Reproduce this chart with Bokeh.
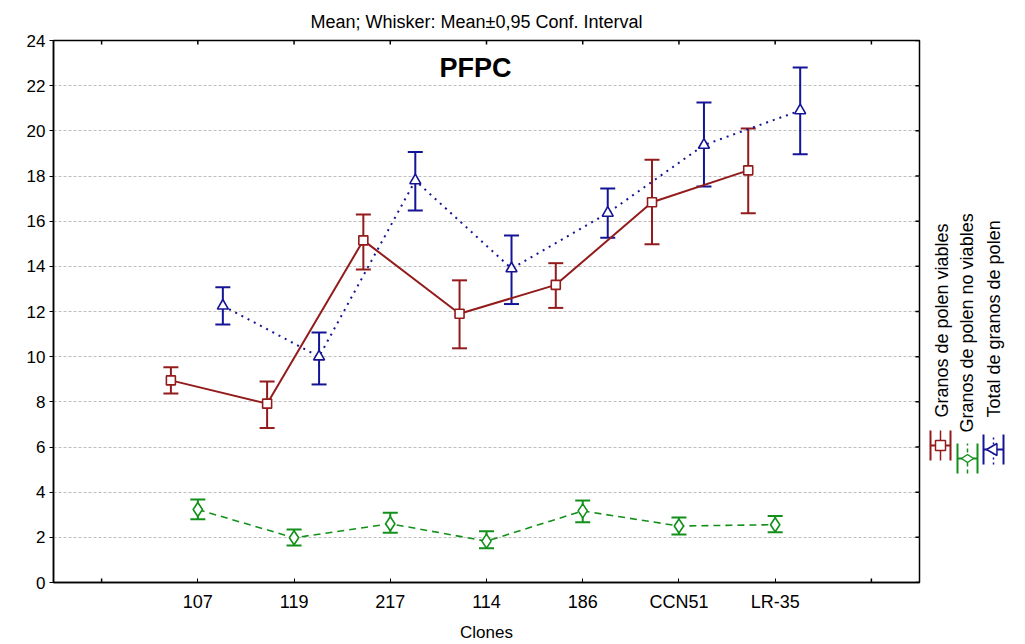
import numpy as np
from bokeh.plotting import figure
from bokeh.layouts import row
from bokeh.models import ColumnDataSource, Range1d, FixedTicker, Whisker, TeeHead, Label
from bokeh.core.properties import value
from bokeh.embed import file_html
from bokeh.resources import INLINE

# ---------------- data ----------------
clones = ["107", "119", "217", "114", "186", "CCN51", "LR-35"]
series_names = ["Granos de polen viables", "Granos de polen no viables", "Total de granos de polen"]

viables_mean = [8.95, 7.92, 15.15, 11.90, 13.18, 16.84, 18.25]
viables_low = [8.37, 6.84, 13.86, 10.37, 12.16, 14.98, 16.35]
viables_high = [9.53, 8.90, 16.29, 13.38, 14.14, 18.72, 20.10]

noviab_mean = [3.23, 1.98, 2.60, 1.83, 3.17, 2.50, 2.56]
noviab_low = [2.80, 1.64, 2.20, 1.52, 2.67, 2.13, 2.23]
noviab_high = [3.68, 2.35, 3.09, 2.27, 3.63, 2.88, 2.95]

total_mean = [12.25, 10.00, 17.80, 13.90, 16.36, 19.37, 20.90]
total_low = [11.42, 8.77, 16.47, 12.33, 15.27, 17.54, 18.96]
total_high = [13.07, 11.07, 19.06, 15.37, 17.45, 21.26, 22.80]

y_ticks = list(range(0, 25, 2))

# ---------------- styling ----------------
FONT = "Liberation Sans"
RED, GREEN, BLUE = "#931b1b", "#12901a", "#141496"

W_MAIN, W_LEG, H = 925, 95, 644
FL, FR, FT, FB = 53, 919, 40, 582  # frame in page px
X0, X1, Y0, Y1 = -0.5, 8.5, 0, 24
DX = (X1 - X0) / (FR - FL)  # data per px
DY = (Y1 - Y0) / (FB - FT)

p = figure(width=W_MAIN, height=H,
           min_border_left=FL, min_border_right=W_MAIN - FR,
           min_border_top=FT, min_border_bottom=H - FB,
           x_range=Range1d(X0, X1), y_range=Range1d(Y0, Y1),
           output_backend="svg", toolbar_location=None, tools="")
p.outline_line_color = "black"
p.outline_line_width = 1.5
p.background_fill_color = "white"
p.border_fill_color = "white"

p.title.text = "Mean; Whisker: Mean\u00b10,95 Conf. Interval"
p.title.align = "left"
p.title.offset = 257
p.title.text_font = FONT
p.title.text_font_size = "18px"
p.title.text_font_style = "normal"
p.title.text_color = "black"
p.title.standoff = 18

# axes
p.yaxis.ticker = FixedTicker(ticks=y_ticks)
p.yaxis.major_label_text_font = FONT
p.yaxis.major_label_text_font_size = "17px"
p.yaxis.major_label_text_color = "black"
p.yaxis.major_tick_in = 0
p.yaxis.major_tick_out = 4
p.yaxis.minor_tick_line_color = None
p.yaxis.axis_line_width = 1.5
p.yaxis.major_label_standoff = 4

xpos = list(range(1, len(clones) + 1))
p.xaxis.ticker = FixedTicker(ticks=xpos)
p.xaxis.major_label_overrides = {i: c for i, c in zip(xpos, clones)}
p.xaxis.major_label_text_font = FONT
p.xaxis.major_label_text_font_size = "18px"
p.xaxis.major_label_text_color = "black"
p.xaxis.major_tick_in = 4
p.xaxis.major_tick_out = 0
p.xaxis.minor_tick_line_color = None
p.xaxis.axis_line_width = 1.5
p.xaxis.major_label_standoff = 9
p.xaxis.axis_label = "Clones"
p.xaxis.axis_label_text_font = FONT
p.xaxis.axis_label_text_font_size = "17px"
p.xaxis.axis_label_text_font_style = "normal"
p.xaxis.axis_label_text_color = "black"
p.xaxis.axis_label_standoff = 8

p.xgrid.grid_line_color = None
p.ygrid.ticker = FixedTicker(ticks=y_ticks)
p.ygrid.grid_line_color = "#bdbdbd"
p.ygrid.grid_line_dash = "3 2"
p.ygrid.grid_line_width = 1

# inward ticks on the top, right and the outer bottom positions
x_all = list(range(0, 9))
p.segment(x0=x_all, x1=x_all, y0=[Y1] * 9, y1=[Y1 - 4 * DY] * 9, line_color="black", line_width=1.5)
p.segment(x0=[0, 8], x1=[0, 8], y0=[Y0] * 2, y1=[Y0 + 4 * DY] * 2, line_color="black", line_width=1.5)
p.segment(x0=[X1] * len(y_ticks), x1=[X1 - 4 * DX] * len(y_ticks), y0=y_ticks, y1=y_ticks,
          line_color="black", line_width=1.5)

# ---------------- series ----------------
specs = [
    (viables_mean, viables_low, viables_high, -0.28, RED, "solid", 2.0, "square", 9),
    (noviab_mean, noviab_low, noviab_high, 0.0, GREEN, "7 5", 1.6, "diamond", 14),
    (total_mean, total_low, total_high, 0.26, BLUE, "2 5", 2.0, "triangle", 11),
]
for mean, low, high, off, col, dash, lw, marker, size in specs:
    src = ColumnDataSource(dict(x=[x + off for x in xpos], m=mean, lo=low, hi=high))
    w = Whisker(base="x", lower="lo", upper="hi", source=src, dimension="height",
                line_color=col, line_width=2,
                lower_head=TeeHead(size=15, line_color=col, line_width=2),
                upper_head=TeeHead(size=15, line_color=col, line_width=2))
    p.add_layout(w)
    p.line("x", "m", source=src, line_color=col, line_width=lw, line_dash=dash)
    p.scatter("x", "m", source=src, marker=marker, size=size, fill_color="white",
              line_color=col, line_width=1.6)

p.add_layout(Label(x=X0 + (475 - FL) * DX, y=Y1 - (67 - FT) * DY, text="PFPC", text_font=FONT,
                   text_font_size="27px", text_font_style="bold", text_align="center",
                   text_baseline="middle", text_color="black"))

# ---------------- legend (rotated) in its own strip ----------------
# the strip's frame is aligned with the main frame, so its y data = page height - page y
q = figure(width=W_LEG, height=H, x_range=Range1d(W_MAIN, W_MAIN + W_LEG),
           y_range=Range1d(H - FB, H - FT), min_border=0,
           min_border_top=FT, min_border_bottom=H - FB, output_backend="svg",
           toolbar_location=None, tools="", x_axis_location=None, y_axis_location=None)
q.outline_line_color = None
q.xgrid.grid_line_color = None
q.ygrid.grid_line_color = None
q.background_fill_color = "white"
q.border_fill_color = "white"

leg_cols = [RED, GREEN, BLUE]
leg_dash = ["solid", "4 3", "2 3"]
leg_marker = ["square", "diamond", "triangle"]
leg_tx = [941, 966, 993]
leg_ty = [417, 432, 417]
leg_cx = [940, 967, 993]
leg_cy = [445, 458, 449]

q.text(x=leg_tx, y=[H - v for v in leg_ty], text=series_names, angle=np.pi / 2,
       text_font=value(FONT), text_font_size="18px", text_align="left",
       text_baseline="middle", text_color="black")
for cx, cy, col, dash, mk in zip(leg_cx, leg_cy, leg_cols, leg_dash, leg_marker):
    y = H - cy
    q.segment(x0=[cx], x1=[cx], y0=[y - 15], y1=[y + 15], line_color=col, line_width=1.5, line_dash=dash)
    q.segment(x0=[cx - 10], x1=[cx + 10], y0=[y], y1=[y], line_color=col, line_width=2)
    q.segment(x0=[cx - 10, cx + 10], x1=[cx - 10, cx + 10], y0=[y - 15] * 2, y1=[y + 15] * 2,
              line_color=col, line_width=2)
    q.scatter(x=[cx], y=[y], marker=mk, size=12 if mk != "square" else 10,
              angle=np.pi / 2 if mk != "square" else 0,
              fill_color="white", line_color=col, line_width=1.5)

layout = row(p, q)
open("out.html", "w").write(file_html(layout, INLINE))
